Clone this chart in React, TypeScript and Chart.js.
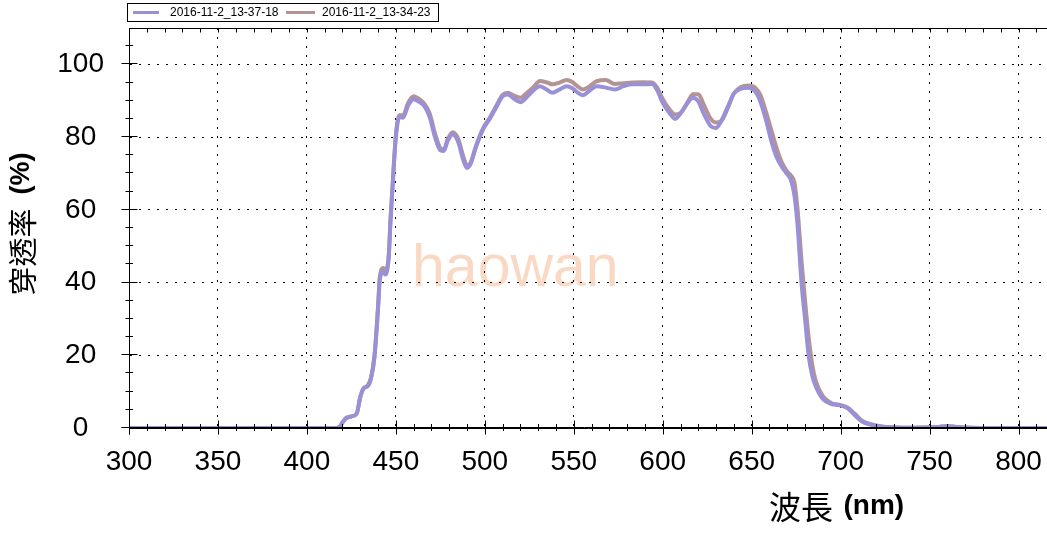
import React, { useEffect, useRef } from "react";
import { Chart, registerables } from "chart.js";

Chart.register(...registerables);

// ---------- data ----------
const series1Name = "2016-11-2_13-37-18";
const series2Name = "2016-11-2_13-34-23";

const wavelengths = [
  300, 350, 400, 415, 418, 420, 422, 425, 428, 430,
  432, 434, 436, 438, 440, 441, 443, 444, 446, 447,
  448, 450, 452, 454, 457, 460, 462, 466, 469, 472,
  475, 477, 479, 482, 485, 488, 490, 492, 495, 499,
  503, 506, 510, 513, 516, 520, 523, 527, 531, 535,
  538, 542, 546, 549, 552, 555, 559, 563, 568, 573,
  578, 583, 589, 594, 597, 600, 604, 607, 610, 614,
  617, 620, 623, 627, 630, 633, 637, 640, 644, 648,
  652, 655, 658, 661, 664, 667, 670, 672, 674, 675,
  676, 678, 680, 682, 684, 686, 690, 695, 699, 704,
  708, 712, 718, 725, 740, 755, 760, 765, 780, 816,
];

const transmittance1 = [
  0, 0, 0, 0, 0.2, 1.5, 2.7, 3.2, 4, 8.5,
  11, 11.4, 13.5, 19.6, 33, 41, 43, 42.2, 47, 57,
  65, 80, 85.5, 85.3, 88.8, 90.4, 90, 88.5, 85.5, 80,
  76.4, 76.2, 78.8, 80.7, 78.7, 73.5, 71.5, 72.6, 77.2, 82.1,
  85.2, 87.8, 91.2, 91.7, 90.7, 89.6, 90.7, 92.7, 94, 93,
  92.2, 93.1, 94, 93.5, 92.3, 91.5, 92.8, 94, 93.6, 93.1,
  94, 94.5, 94.5, 94.6, 92.8, 89.4, 86.5, 85, 86.5, 89.4,
  90.8, 89.8, 86.5, 83, 82.5, 84.5, 88.8, 92, 93.3, 93.6,
  92.5, 89.6, 84.8, 79, 74.5, 71.8, 69.8, 68.3, 64, 60,
  54.5, 40, 30, 20, 14.5, 11.5, 8, 6.6, 6.3, 5.4,
  3.5, 1.8, 0.8, 0.3, 0.1, 0.3, 0.5, 0.3, 0, 0,
];

const transmittance2 = [
  0, 0, 0, 0, 0.2, 1.5, 2.7, 3.2, 4, 8.5,
  11, 11.6, 13.8, 20, 33.5, 41.5, 44, 43, 47.5, 57.5,
  65.5, 80.5, 86, 86, 89.5, 91.2, 90.8, 89.2, 86.5, 81,
  77, 76.6, 79.3, 81.3, 79.5, 74.5, 72.2, 73, 77.5, 82.4,
  85.5, 88.2, 91.6, 92.2, 91.5, 90.8, 91.9, 93.6, 95.4, 95,
  94.5, 95, 95.7, 95.2, 94, 93.1, 94, 95.4, 95.7, 94.6,
  94.8, 95, 95.1, 95, 93.5, 90.5, 87.5, 86.2, 86.6, 89.6,
  91.8, 91.8, 89, 85, 84, 84.5, 88.5, 92, 93.8, 94.2,
  93.6, 91.5, 87, 82, 77, 73, 70.5, 69.5, 67.5, 64,
  59, 46, 35, 25, 17.5, 13, 8.8, 6.8, 6.4, 5.6,
  3.9, 2, 0.9, 0.3, 0.1, 0.3, 0.5, 0.3, 0, 0,
];

const xTickValues = [300, 350, 400, 450, 500, 550, 600, 650, 700, 750, 800];
const yTickValues = [0, 20, 40, 60, 80, 100];

const xTitleCJK = "波長";
const xTitleUnit = "(nm)";
const yTitleCJK = "穿透率";
const yTitleUnit = "(%)";
const watermarkText = "haowan";

// ---------- styles ----------
const PURPLE = "#9a90d8";
const BROWN = "#b39493";
const SANS = '"Liberation Sans", Arial, sans-serif';
const CJK = '"Noto Sans CJK TC", "Noto Sans CJK SC", sans-serif';

const decorPlugin = {
  id: "decor",
  beforeDraw(chart: any) {
    const { ctx } = chart;
    ctx.save();
    ctx.font = `59px ${SANS}`;
    ctx.fillStyle = "rgba(240,165,115,0.42)";
    ctx.textBaseline = "alphabetic";
    ctx.textAlign = "left";
    ctx.fillText(watermarkText, 412, 286);
    ctx.restore();
  },
  afterDraw(chart: any) {
    const { ctx, chartArea: ca } = chart;
    const x = chart.scales.x;
    const y = chart.scales.y;
    ctx.save();
    ctx.strokeStyle = "#000";
    ctx.lineWidth = 1;
    const bx = Math.round(ca.left) + 0.5;
    const by = Math.round(ca.bottom) - 0.5;
    const ty = Math.round(ca.top) + 0.5;
    ctx.beginPath();
    ctx.moveTo(bx - 8, by);
    ctx.lineTo(ca.right, by);
    ctx.moveTo(bx, ty);
    ctx.lineTo(bx, by + 7);
    ctx.moveTo(bx, ty);
    ctx.lineTo(ca.right, ty);
    // x ticks (major every 50, minor every 10)
    for (let v = 300; v <= 810; v += 10) {
      const px = Math.round(x.getPixelForValue(v)) + 0.5;
      const major = v % 50 === 0;
      const h = major ? 7 : 3.5;
      ctx.moveTo(px, by - h);
      ctx.lineTo(px, by + h);
      ctx.moveTo(px, ty);
      ctx.lineTo(px, ty + 4);
    }
    // y ticks (major every 20, minor every 5)
    for (let v = 0; v <= 105; v += 5) {
      const py = Math.round(y.getPixelForValue(v)) - 0.5;
      const major = v % 20 === 0;
      ctx.moveTo(bx - (major ? 8 : 4), py);
      ctx.lineTo(bx + (major ? 8 : 3.5), py);
    }
    ctx.stroke();

    // legend
    ctx.strokeRect(127.5, 3.5, 311, 18);
    ctx.lineWidth = 3;
    ctx.strokeStyle = PURPLE;
    ctx.beginPath();
    ctx.moveTo(133, 12.5);
    ctx.lineTo(159, 12.5);
    ctx.stroke();
    ctx.strokeStyle = BROWN;
    ctx.beginPath();
    ctx.moveTo(286, 12.5);
    ctx.lineTo(315, 12.5);
    ctx.stroke();
    ctx.fillStyle = "#000";
    ctx.font = `12px ${SANS}`;
    ctx.textBaseline = "middle";
    ctx.textAlign = "left";
    ctx.fillText(series1Name, 170, 13);
    ctx.fillText(series2Name, 322, 13);

    // x title
    ctx.font = `32px ${CJK}`;
    ctx.fillText(xTitleCJK, 769, 507);
    ctx.font = `bold 28px ${SANS}`;
    ctx.fillText(xTitleUnit, 843.5, 506);

    // y title (rotated)
    ctx.save();
    ctx.translate(22.5, 224);
    ctx.rotate(-Math.PI / 2);
    ctx.font = `29px ${CJK}`;
    const w1 = ctx.measureText(yTitleCJK).width;
    ctx.font = `bold 27px ${SANS}`;
    const w2 = ctx.measureText(yTitleUnit).width;
    const gap = 14;
    const total = w1 + gap + w2;
    ctx.font = `29px ${CJK}`;
    ctx.fillText(yTitleCJK, -total / 2, 0);
    ctx.font = `bold 27px ${SANS}`;
    ctx.fillText(yTitleUnit, -total / 2 + w1 + gap, -1);
    ctx.restore();

    ctx.restore();
  },
};

export default function App() {
  const canvasRef = useRef<HTMLCanvasElement | null>(null);

  useEffect(() => {
    document.body.style.margin = "0";
    document.body.style.overflow = "hidden";
    const canvas = canvasRef.current;
    if (!canvas) return;
    const chart = new Chart(canvas, {
      type: "line",
      data: {
        datasets: [
          {
            label: series1Name,
            data: wavelengths.map((w, i) => ({ x: w, y: transmittance1[i] })),
            borderColor: PURPLE,
            backgroundColor: PURPLE,
            borderWidth: 4,
            pointRadius: 0,
            fill: false,
            cubicInterpolationMode: "monotone",
          },
          {
            label: series2Name,
            data: wavelengths.map((w, i) => ({ x: w, y: transmittance2[i] })),
            borderColor: BROWN,
            backgroundColor: BROWN,
            borderWidth: 4,
            pointRadius: 0,
            fill: false,
            cubicInterpolationMode: "monotone",
          },
        ],
      },
      options: {
        responsive: false,
        animation: false,
        devicePixelRatio: 1,
        events: [],
        layout: { padding: { left: 0, right: 0, top: 28, bottom: 0 } },
        plugins: {
          legend: { display: false },
          title: { display: false },
          tooltip: { enabled: false },
        },
        scales: {
          x: {
            type: "linear",
            min: 300,
            max: 816,
            afterBuildTicks: (s: any) => {
              s.ticks = xTickValues.map((v) => ({ value: v }));
            },
            afterFit: (s: any) => {
              s.height = 105;
            },
            grid: {
              color: "#000",
              lineWidth: 1,
              drawTicks: true,
              tickLength: 17,
              tickColor: "rgba(0,0,0,0)",
            },
            border: { display: true, color: "#000", width: 1, dash: [2, 7] },
            ticks: {
              color: "#000",
              font: { family: SANS, size: 28 },
              padding: 0,
              maxRotation: 0,
              autoSkip: false,
            },
          },
          y: {
            type: "linear",
            min: 0,
            max: 110,
            afterBuildTicks: (s: any) => {
              s.ticks = yTickValues.map((v) => ({ value: v }));
            },
            afterFit: (s: any) => {
              s.width = 129;
            },
            grid: {
              color: "#000",
              lineWidth: 1,
              drawTicks: true,
              tickLength: 25,
              tickColor: "rgba(0,0,0,0)",
            },
            border: { display: true, color: "#000", width: 1, dash: [2, 7] },
            ticks: {
              color: "#000",
              font: { family: SANS, size: 28 },
              padding: 0,
              crossAlign: "center",
              autoSkip: false,
            },
          },
        },
      },
      plugins: [decorPlugin],
    } as any);
    return () => chart.destroy();
  }, []);

  return (
    <div style={{ width: 1047, height: 533, background: "#fff" }}>
      <canvas ref={canvasRef} width={1047} height={533} style={{ display: "block" }} />
    </div>
  );
}
